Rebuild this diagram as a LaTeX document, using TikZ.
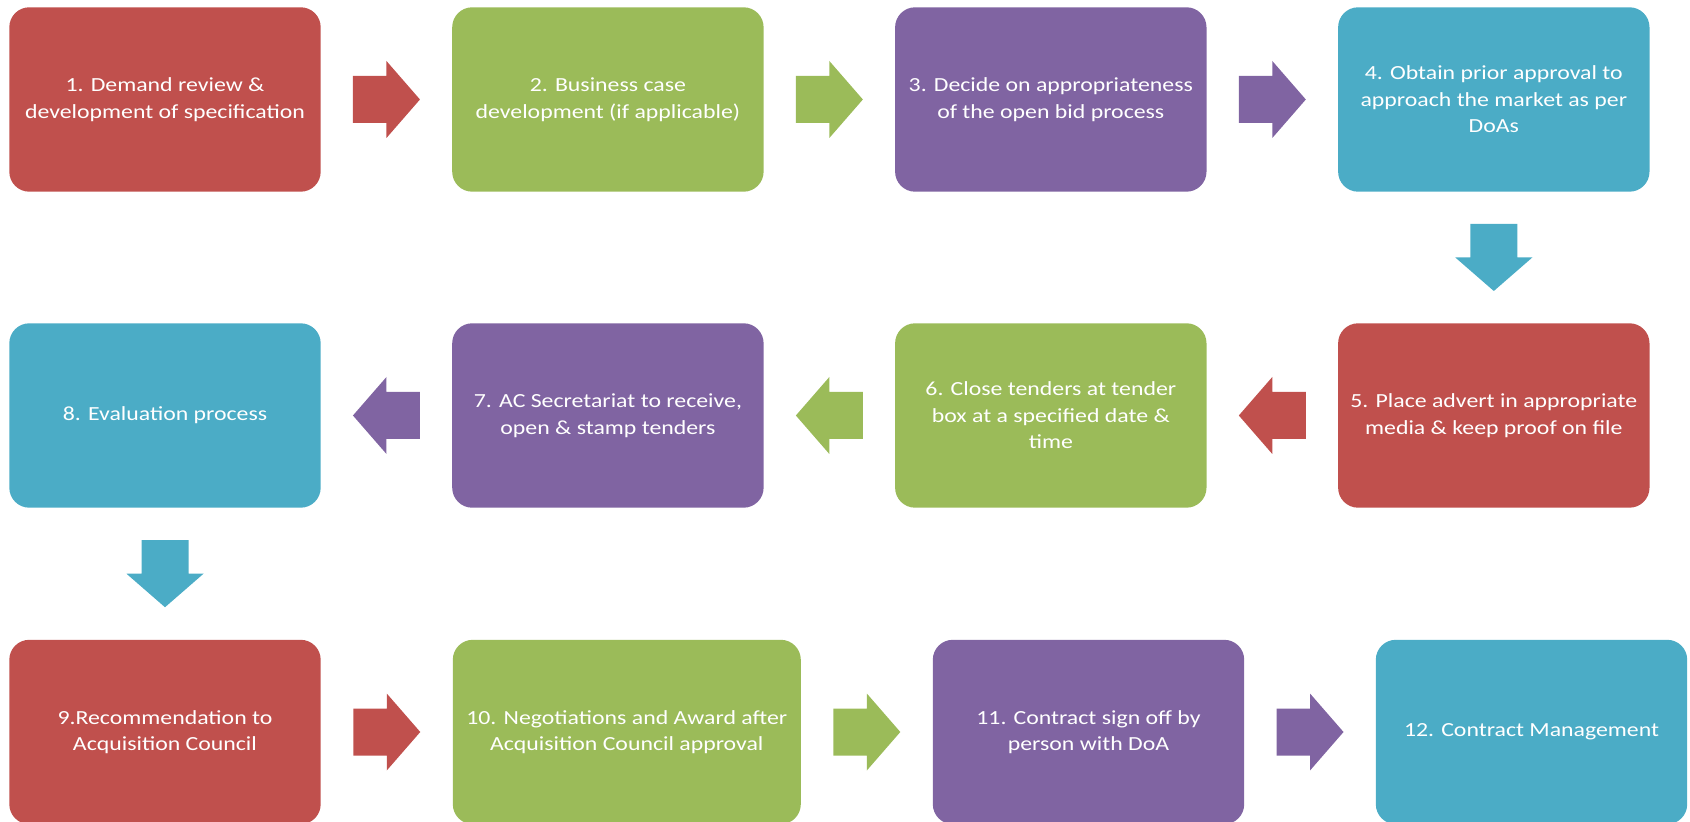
\documentclass[tikz,border=0pt]{standalone}
\usepackage{fontspec}
\setmainfont{Carlito}[FakeStretch=1.19]

\definecolor{accred}{HTML}{C0504D}
\definecolor{accgreen}{HTML}{9BBB59}
\definecolor{accpurple}{HTML}{8064A2}
\definecolor{accblue}{HTML}{4BACC6}

\tikzset{
    stepbox/.style={rectangle, rounded corners=10pt, inner sep=0pt,
        minimum width=155.7pt, minimum height=92.2pt, text=white,
        align=center, font=\fontsize{10}{13.3}\selectfont},
    blockarrow/.pic={
        \fill[#1] (-33.5,-23.5) -- (0,-23.5) -- (0,-38.5) -- (33.5,0)
            -- (0,38.5) -- (0,23.5) -- (-33.5,23.5) -- cycle;
    }
}

\begin{document}
\begin{tikzpicture}[x=0.5pt, y=-0.5pt]
    \useasboundingbox (0,0) rectangle (1690,822);
    \clip (0,0) rectangle (1690,822);

    % First row, left to right
    \foreach \n/\x/\c/\t in {1/165/accred/{1. Demand review \&\\development of specification},
                             2/607.9/accgreen/{2. Business case\\development (if applicable)},
                             3/1050.8/accpurple/{3. Decide on appropriateness\\of the open bid process},
                             4/1493.8/accblue/{4. Obtain prior approval to\\approach the market as per\\DoAs}} {
        \node[stepbox, fill=\c] (b\n) at (\x,99.5) {\t};
    }

    % Second row, right to left
    \foreach \n/\x/\c/\t in {5/1493.8/accred/{5. Place advert in appropriate\\media \& keep proof on file},
                             6/1050.8/accgreen/{6. Close tenders at tender\\box at a specified date \&\\time},
                             7/607.9/accpurple/{7. AC Secretariat to receive,\\open \& stamp tenders},
                             8/165/accblue/{8. Evaluation process}} {
        \node[stepbox, fill=\c] (b\n) at (\x,415.5) {\t};
    }

    % Third row, left to right (box 10 is wider)
    \foreach \n/\x/\w/\c/\t in {9/165/155.7pt/accred/{9.Recommendation to\\Acquisition Council},
                                10/626.8/174pt/accgreen/{10. Negotiations and Award after\\Acquisition Council approval},
                                11/1088.5/155.7pt/accpurple/{11. Contract sign off by\\person with DoA},
                                12/1531.5/155.7pt/accblue/{12. Contract Management}} {
        \node[stepbox, fill=\c, minimum width=\w] (b\n) at (\x,732) {\t};
    }

    % Block arrows between the steps
    \path (b1.east) -- (b2.west) pic[midway] {blockarrow=accred};
    \path (b2.east) -- (b3.west) pic[midway] {blockarrow=accgreen};
    \path (b3.east) -- (b4.west) pic[midway] {blockarrow=accpurple};
    \path (b4.south) -- (b5.north) pic[midway, rotate=-90] {blockarrow=accblue};
    \path (b5.west) -- (b6.east) pic[midway, rotate=180] {blockarrow=accred};
    \path (b6.west) -- (b7.east) pic[midway, rotate=180] {blockarrow=accgreen};
    \path (b7.west) -- (b8.east) pic[midway, rotate=180] {blockarrow=accpurple};
    \path (b8.south) -- (b9.north) pic[midway, rotate=-90] {blockarrow=accblue};
    \path (b9.east) -- (b10.west) pic[midway] {blockarrow=accred};
    \path (b10.east) -- (b11.west) pic[midway] {blockarrow=accgreen};
    \path (b11.east) -- (b12.west) pic[midway] {blockarrow=accpurple};
\end{tikzpicture}
\end{document}
